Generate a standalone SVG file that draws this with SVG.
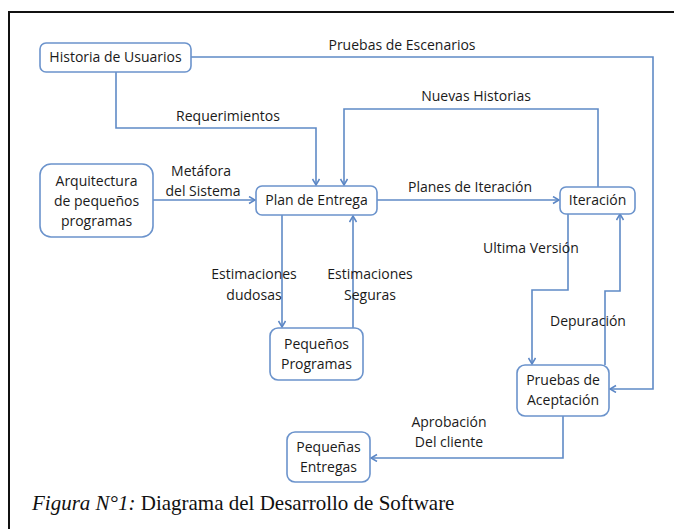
<svg xmlns="http://www.w3.org/2000/svg" width="674" height="529" viewBox="0 0 674 529">
<defs>
<marker id="arr" markerWidth="10" markerHeight="10" refX="7" refY="4" orient="auto" markerUnits="userSpaceOnUse">
<polyline points="1,0.5 7,4 1,7.5" fill="none" stroke="#5b86c5" stroke-width="1.5"/>
</marker>
</defs>
<style>
.box{fill:#fff;stroke:#6b93cc;stroke-width:1.6}
.t{font-family:"Open Sans","Liberation Sans",sans-serif;font-size:14px;fill:#1a1a1a;text-anchor:middle}
.c{fill:none;stroke:#5f8ac6;stroke-width:1.6}
.frame{stroke:#111;stroke-width:2;fill:none}
.cap{font-family:"Liberation Serif",serif;font-size:21px;fill:#111}
</style>
<rect width="674" height="529" fill="#fff"/>
<path class="frame" d="M9,529 V12 H674"/>
<g id="connectors">
<path class="c" d="M191,57 H653 V389 H610" marker-end="url(#arr)"/>
<path class="c" d="M116,72 V128 H316 V185" marker-end="url(#arr)"/>
<path class="c" d="M153,200 H255" marker-end="url(#arr)"/>
<path class="c" d="M377,200 H559" marker-end="url(#arr)"/>
<path class="c" d="M598,187 V109 H344 V185" marker-end="url(#arr)"/>
<path class="c" d="M282,215 V327" marker-end="url(#arr)"/>
<path class="c" d="M353,328 V216" marker-end="url(#arr)"/>
<path class="c" d="M568,213 V290 H532 V364" marker-end="url(#arr)"/>
<path class="c" d="M605,365 V291 H620 V214" marker-end="url(#arr)"/>
<path class="c" d="M563,416 V458 H371" marker-end="url(#arr)"/>
<text class="t" x="402" y="50">Pruebas de Escenarios</text>
<text class="t" x="228" y="121">Requerimientos</text>
<text class="t" x="201" y="176">Metáfora</text>
<text class="t" x="203" y="196">del Sistema</text>
<text class="t" x="470" y="192">Planes de Iteración</text>
<text class="t" x="476" y="101">Nuevas Historias</text>
<text class="t" x="254" y="279">Estimaciones</text>
<text class="t" x="254" y="300">dudosas</text>
<text class="t" x="370" y="279">Estimaciones</text>
<text class="t" x="370" y="300">Seguras</text>
<text class="t" x="531" y="253">Ultima Versión</text>
<text class="t" x="588" y="326">Depuración</text>
<text class="t" x="449" y="427">Aprobación</text>
<text class="t" x="449" y="447">Del cliente</text>
</g>
<g id="historia"><rect class="box" x="40" y="43" width="151" height="29" rx="6"/><text class="t" x="115.5" y="62">Historia de Usuarios</text></g>
<g id="arquitectura"><rect class="box" x="40" y="164" width="113" height="73" rx="11"/><text class="t" x="96.5" y="186">Arquitectura</text><text class="t" x="96.5" y="206">de pequeños</text><text class="t" x="96.5" y="226">programas</text></g>
<g id="plan"><rect class="box" x="256" y="186" width="121" height="29" rx="6"/><text class="t" x="316.5" y="205">Plan de Entrega</text></g>
<g id="iteracion"><rect class="box" x="560" y="187" width="75" height="27" rx="6"/><text class="t" x="597.5" y="205">Iteración</text></g>
<g id="pequenos-programas"><rect class="box" x="270" y="328" width="93" height="52" rx="8"/><text class="t" x="316.5" y="349">Pequeños</text><text class="t" x="316.5" y="369">Programas</text></g>
<g id="pequenas-entregas"><rect class="box" x="287" y="432" width="83" height="50" rx="8"/><text class="t" x="328.5" y="452">Pequeñas</text><text class="t" x="328.5" y="472">Entregas</text></g>
<g id="pruebas-aceptacion"><rect class="box" x="517" y="365" width="92" height="51" rx="8"/><text class="t" x="563" y="385">Pruebas de</text><text class="t" x="563" y="405">Aceptación</text></g>
<text class="cap" x="32" y="510"><tspan font-style="italic">Figura N°1:</tspan> Diagrama del Desarrollo de Software</text>
</svg>
